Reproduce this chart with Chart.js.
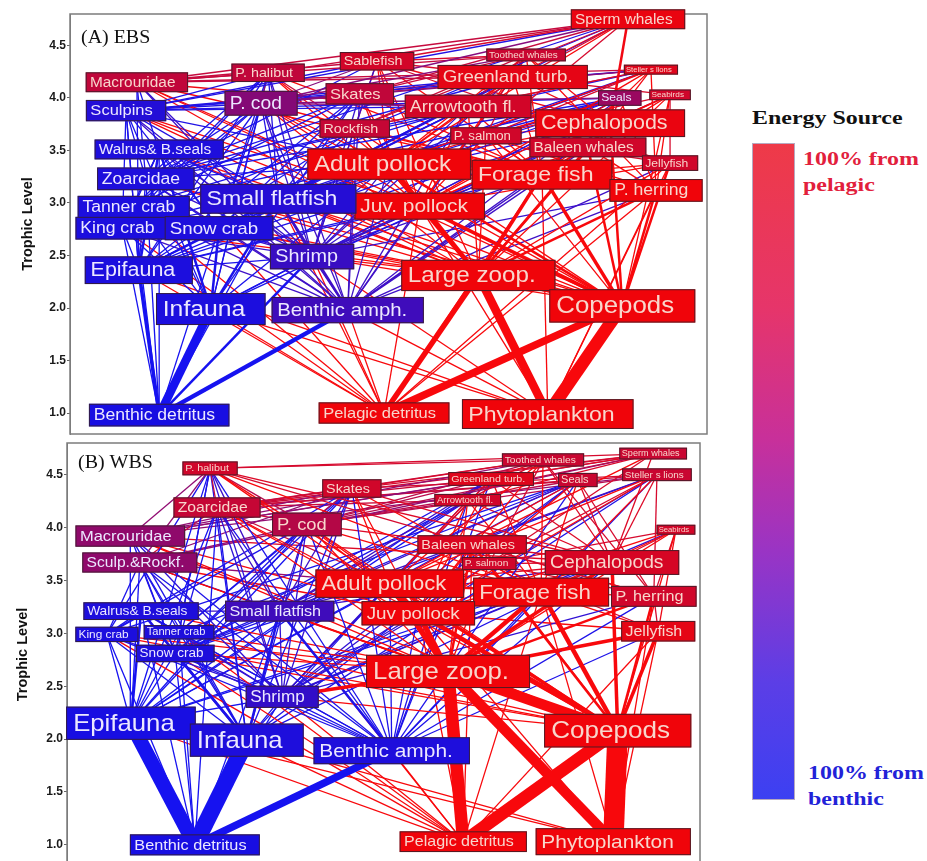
<!DOCTYPE html>
<html>
<head>
<meta charset="utf-8">
<script src="https://cdn.jsdelivr.net/npm/chart.js@4.4.1/dist/chart.umd.min.js"></script>
<style>
  body { margin: 0; background: #fff; width: 927px; height: 861px; overflow: hidden; position: relative; }
  #chartA { position: absolute; left: 0; top: 0; }
  #chartB { position: absolute; left: 0; top: 440px; }
  .cbar { position: absolute; left: 752px; top: 143px; width: 43px; height: 657px; box-sizing: border-box;
          border: 1px solid #b7a9c0;
          background: linear-gradient(to bottom, #ee3a48 0%, #e6356a 25%, #c8309a 45%, #9a34c4 62%, #5c3ee6 82%, #3c40f2 100%); }
  .lbl { position: absolute; font-family: "Liberation Serif", "Times New Roman", serif; font-weight: bold;
         font-size: 18px; line-height: 26px; white-space: nowrap; transform-origin: left top; transform: scaleX(1.33); }
</style>
</head>
<body>
<canvas id="chartA" width="708" height="435"></canvas>
<canvas id="chartB" width="701" height="427"></canvas>
<div class="lbl" style="left:752px;top:105px;color:#111">Energy Source</div>
<div class="cbar"></div>
<div class="lbl" style="left:803px;top:146px;color:#e2203c">100% from<br>pelagic</div>
<div class="lbl" style="left:808px;top:760px;color:#2222d8">100% from<br>benthic</div>
<script>
const trophicTicks = [1.0, 1.5, 2.0, 2.5, 3.0, 3.5, 4.0, 4.5];

// ---- (A) EBS ----
const ebsIds = ['sperm','tooth','sable','gturb','sealion','bird','seal','arrow','skate','halibut','macro','cod',
  'sculpin','rock','salmon','ceph','baleen','jelly','apol','forage','herring','jpol','walrus','zoar','sflat',
  'tanner','king','snow','shrimp','epi','infa','bamph','lzoop','cope','bdet','pdet','phyto'];
const ebsLabels = ['Sperm whales','Toothed whales','Sablefish','Greenland turb.','Steller s lions','Seabirds','Seals',
  'Arrowtooth fl.','Skates','P. halibut','Macrouridae','P. cod','Sculpins','Rockfish','P. salmon','Cephalopods',
  'Baleen whales','Jellyfish','Adult pollock','Forage fish','P. herring','Juv. pollock','Walrus& B.seals','Zoarcidae',
  'Small flatfish','Tanner crab','King crab','Snow crab','Shrimp','Epifauna','Infauna','Benthic amph.','Large zoop.',
  'Copepods','Benthic detritus','Pelagic detritus','Phytoplankton'];
const ebsX = [87.6, 71.6, 48.2, 69.5, 91.2, 94.2, 86.3, 62.5, 45.5, 31.1, 10.5, 30.0,
  8.8, 44.7, 65.3, 84.8, 81.3, 94.2, 50.1, 74.1, 92.0, 54.9, 14.0, 11.9, 32.7,
  10.0, 8.2, 23.4, 38.0, 10.8, 22.1, 43.6, 64.1, 86.7, 14.0, 49.3, 75.0];
const ebsTL = [4.75, 4.41, 4.35, 4.20, 4.27, 4.03, 4.00, 3.92, 4.04, 4.24, 4.15, 3.95,
  3.88, 3.71, 3.64, 3.76, 3.53, 3.38, 3.37, 3.27, 3.12, 2.97, 3.51, 3.23, 3.04,
  2.96, 2.76, 2.76, 2.49, 2.36, 1.99, 1.98, 2.31, 2.02, 0.98, 1.00, 0.99];
const ebsPelagic = [0.97, 0.82, 0.86, 0.95, 0.92, 0.85, 0.6, 0.86, 0.78, 0.78, 0.78, 0.5,
  0.05, 0.8, 0.85, 0.97, 0.85, 0.85, 1, 1, 1, 1, 0.03, 0.03, 0.06,
  0.02, 0.02, 0.03, 0.15, 0.02, 0.02, 0.18, 1, 1, 0, 1, 1];
const ebsDiets = {
  sperm:   'ceph:2 macro sable skate gturb arrow cod apol rock halibut salmon sculpin zoar sflat king',
  tooth:   'ceph salmon forage apol herring cod sable macro gturb arrow jpol rock skate',
  sealion: 'apol forage herring ceph cod salmon jpol sculpin arrow sflat zoar snow rock skate macro',
  bird:    'forage jpol lzoop cope ceph herring jelly shrimp salmon sable',
  seal:    'apol jpol forage cod sculpin shrimp ceph herring zoar sflat snow salmon epi infa tanner king bamph',
  gturb:   'apol jpol forage ceph cod sflat shrimp arrow macro zoar sculpin snow bamph epi',
  arrow:   'apol jpol forage shrimp sflat cod lzoop ceph zoar sculpin snow bamph tanner epi rock',
  sable:   'ceph forage apol jpol macro shrimp lzoop jelly zoar sculpin cod rock',
  skate:   'apol jpol forage snow shrimp sflat sculpin bamph cod zoar tanner epi infa',
  halibut: 'apol cod sflat snow tanner king sculpin forage shrimp jpol zoar rock macro epi infa bamph',
  macro:   'shrimp bamph lzoop epi infa forage ceph cope jpol zoar',
  cod:     'apol jpol forage shrimp snow tanner sflat bamph epi infa lzoop zoar sculpin king cope',
  sculpin: 'shrimp snow tanner king epi infa bamph sflat zoar jpol cope lzoop',
  rock:    'lzoop cope forage jpol shrimp bamph sflat epi',
  salmon:  'lzoop cope forage jpol ceph shrimp herring',
  ceph:    'lzoop:2 cope:2 forage jpol shrimp bamph sflat epi infa',
  baleen:  'cope:2 lzoop:2 forage jpol herring shrimp bamph',
  jelly:   'cope:2 lzoop forage jpol pdet phyto bamph salmon',
  apol:    'lzoop:4 cope:2 jpol:2 forage shrimp bamph sflat infa epi ceph zoar snow sculpin',
  forage:  'cope:3 lzoop:3 phyto pdet bamph shrimp epi',
  herring: 'cope:2 lzoop:2 forage phyto bamph shrimp pdet',
  jpol:    'cope:3 lzoop:3 phyto bamph shrimp epi pdet',
  walrus:  'infa:2 epi:2 snow shrimp bamph tanner king sflat zoar bdet cope lzoop',
  zoar:    'infa epi bamph shrimp snow bdet lzoop cope',
  sflat:   'infa:2 epi bamph:2 shrimp snow lzoop cope bdet pdet',
  tanner:  'infa epi bamph bdet shrimp lzoop pdet',
  king:    'infa epi bamph bdet shrimp lzoop pdet sflat',
  snow:    'infa:2 epi bamph bdet shrimp pdet lzoop cope',
  shrimp:  'bdet:2 pdet infa epi bamph lzoop cope phyto',
  epi:     'bdet:3 pdet phyto',
  infa:    'bdet:8 pdet phyto',
  bamph:   'bdet:4 pdet phyto',
  lzoop:   'phyto:8 pdet:5 cope:4',
  cope:    'phyto:12 pdet:7'
};

// ---- (B) WBS ----
const wbsIds = ['halibut','zoar','skate','cod','macro','sculrock','walrus','sflat','king','tanner','snow','shrimp',
  'epi','infa','bamph','bdet','lzoop','cope','pdet','phyto','tooth','sperm','gturb','seal','sealion','arrow','bird',
  'baleen','salmon','ceph','apol','forage','herring','jpol','jelly'];
const wbsLabels = ['P. halibut','Zoarcidae','Skates','P. cod','Macrouridae','Sculp.&Rockf.','Walrus& B.seals',
  'Small flatfish','King crab','Tanner crab','Snow crab','Shrimp','Epifauna','Infauna','Benthic amph.',
  'Benthic detritus','Large zoop.','Copepods','Pelagic detritus','Phytoplankton','Toothed whales','Sperm whales',
  'Greenland turb.','Seals','Steller s lions','Arrowtooth fl.','Seabirds','Baleen whales','P. salmon','Cephalopods',
  'Adult pollock','Forage fish','P. herring','Juv pollock','Jellyfish'];
const wbsX = [22.6, 23.7, 45.0, 37.9, 10.0, 11.5, 11.7, 33.6, 6.3, 17.7, 17.1, 34.0,
  10.1, 28.4, 51.3, 20.2, 60.2, 87.0, 62.6, 86.3, 75.2, 92.6, 67.0, 80.7, 93.2, 63.3, 96.2,
  64.0, 66.7, 86.1, 51.0, 74.9, 92.7, 55.5, 93.4];
const wbsTL = [4.56, 4.19, 4.37, 4.03, 3.92, 3.67, 3.21, 3.21, 2.99, 3.01, 2.81, 2.40,
  2.15, 1.99, 1.89, 1.00, 2.64, 2.08, 1.03, 1.03, 4.64, 4.70, 4.46, 4.45, 4.50, 4.26, 3.98,
  3.84, 3.66, 3.67, 3.47, 3.39, 3.35, 3.19, 3.02];
const wbsPelagic = [0.85, 0.8, 0.85, 0.72, 0.55, 0.55, 0.03, 0.18, 0.02, 0.03, 0.03, 0.12,
  0, 0.03, 0.03, 0, 1, 1, 1, 1, 0.82, 0.82, 0.92, 0.82, 0.82, 0.86, 0.86,
  0.9, 0.85, 0.88, 1, 1, 0.85, 1, 0.95];
const wbsDiets = {
  halibut:  'apol cod forage jpol sflat snow shrimp zoar sculrock ceph herring tanner king bamph epi infa macro',
  zoar:     'infa epi bamph shrimp snow lzoop cope bdet sflat jpol',
  skate:    'apol jpol forage shrimp sflat snow epi infa bamph cod zoar ceph tanner king macro sculrock',
  cod:      'apol jpol forage shrimp snow tanner king sflat bamph epi infa lzoop cope ceph zoar sculrock',
  macro:    'shrimp bamph lzoop epi infa ceph cope jpol snow',
  sculrock: 'shrimp bamph epi infa lzoop cope snow tanner king jpol sflat zoar',
  walrus:   'infa:2 epi:2 bamph shrimp snow tanner king bdet sflat lzoop',
  sflat:    'infa:2 epi bamph:2 shrimp lzoop cope snow bdet pdet',
  king:     'infa epi bamph bdet shrimp lzoop cope pdet',
  tanner:   'infa epi bamph bdet shrimp lzoop cope pdet',
  snow:     'infa:2 epi bamph bdet shrimp lzoop cope pdet',
  shrimp:   'bdet pdet infa epi bamph lzoop:3 cope',
  epi:      'bdet:14 pdet phyto',
  infa:     'bdet:16 pdet phyto',
  bamph:    'bdet:7 pdet',
  lzoop:    'phyto:10 pdet:12 cope:10',
  cope:     'phyto:20 pdet:12',
  tooth:    'ceph salmon forage apol herring cod halibut gturb skate arrow jpol zoar macro',
  sperm:    'ceph skate gturb cod halibut macro arrow zoar sculrock apol salmon',
  gturb:    'apol jpol forage ceph cod sflat shrimp zoar snow bamph epi macro',
  seal:     'apol jpol forage cod shrimp ceph herring sflat snow epi infa tanner king bamph zoar',
  sealion:  'apol forage herring ceph cod salmon jpol sflat bamph infa snow shrimp zoar skate macro',
  arrow:    'apol jpol forage shrimp sflat cod lzoop ceph snow bamph epi zoar',
  bird:     'forage jpol lzoop cope ceph herring jelly shrimp salmon',
  baleen:   'cope:2 lzoop:2 forage jpol herring shrimp bamph pdet',
  salmon:   'lzoop cope forage jpol ceph herring shrimp',
  ceph:     'lzoop:3 cope:3 forage jpol shrimp bamph sflat epi infa',
  apol:     'lzoop:5 cope:3 jpol:3 forage:2 shrimp bamph sflat infa epi ceph zoar snow sculrock',
  forage:   'cope:4 lzoop:4 phyto pdet shrimp bamph epi',
  herring:  'cope:2 lzoop:2 forage phyto bamph shrimp',
  jpol:     'cope:4 lzoop:5 phyto bamph shrimp pdet',
  jelly:    'cope:3 lzoop:3 forage jpol pdet phyto bamph salmon herring'
};

// label font sizes (styling)
const ebsFont = { sperm:14, tooth:9, sable:13, gturb:17, sealion:7, bird:7.5, seal:11, arrow:16.5, skate:15,
  halibut:13, macro:14, cod:17.5, sculpin:15, rock:13, salmon:12, ceph:19.5, baleen:14, jelly:11, apol:22,
  forage:21, herring:16, jpol:19, walrus:14, zoar:16, sflat:21, tanner:16, king:16, snow:17, shrimp:18,
  epi:19.5, infa:22.5, bamph:18.5, lzoop:22, cope:23.5, bdet:16, pdet:15, phyto:21 };
const wbsFont = { halibut:9.8, zoar:14.3, skate:13, cod:16.7, macro:15, sculrock:14.2, walrus:12.5, sflat:14.7,
  king:10.8, tanner:10.1, snow:12.3, shrimp:15.6, epi:23.4, infa:23.4, bamph:19, bdet:14.8, lzoop:23.4,
  cope:23.7, pdet:14.6, phyto:19, tooth:9.3, sperm:8.3, gturb:9.7, seal:10, sealion:9, arrow:8.7, bird:7,
  baleen:13.1, salmon:9.2, ceph:17.5, apol:20, forage:20.3, herring:14.7, jpol:17.1, jelly:14.5 };

const STRETCH = 1.1;
const BOX_B = [24, 14, 226], BOX_P = [240, 4, 10];
const EDGE_B = [22, 18, 240], EDGE_P = [248, 8, 12];

function mix(p, a, b) {
  return 'rgb(' + a.map((v, i) => Math.round(v + (b[i] - v) * p)).join(',') + ')';
}

function parseDiets(diets) {
  const links = [];
  for (const pred in diets) {
    diets[pred].split(/\s+/).forEach(tok => {
      const [prey, w] = tok.split(':');
      links.push({ prey, pred, flow: w ? +w : 1 });
    });
  }
  return links;
}

function drawWeb(canvasId, title, ids, labels, xs, tls, pelagic, diets, fonts, axisW, padTop, titlePad, titleY) {
  const idx = {};
  ids.forEach((id, i) => idx[id] = i);
  const links = parseDiets(diets).sort((a, b) => b.flow - a.flow);

  const nodeSet = {
    label: 'nodes',
    data: ids.map((id, i) => ({ x: xs[i], y: tls[i] })),
    pointRadius: 0, showLine: false
  };
  const edgeSets = links.map(l => ({
    label: l.prey + '>' + l.pred,
    data: [{ x: xs[idx[l.prey]], y: tls[idx[l.prey]] }, { x: xs[idx[l.pred]], y: tls[idx[l.pred]] }],
    showLine: true, pointRadius: 0,
    borderColor: mix(pelagic[idx[l.prey]], EDGE_B, EDGE_P),
    borderWidth: l.flow <= 1 ? 1.3 : l.flow + 0.5,
    clip: false
  }));

  const boxes = {
    id: 'boxes',
    beforeDatasetsDraw(chart) {
      const { ctx, chartArea: a } = chart;
      ctx.save();
      ctx.strokeStyle = '#7c7c7c';
      ctx.lineWidth = 1.5;
      ctx.strokeRect(a.left, a.top, a.right - a.left, a.bottom - a.top);
      ctx.restore();
    },
    afterDatasetsDraw(chart) {
      const { ctx, chartArea: a } = chart;
      const meta = chart.getDatasetMeta(0);
      ctx.save();
      ctx.font = '19px "Liberation Serif", "Times New Roman", serif';
      ctx.fillStyle = '#111';
      ctx.textBaseline = 'alphabetic';
      ctx.translate(a.left + 11, a.top + titleY);
      ctx.scale(1.05, 1);
      ctx.fillText(title, 0, 0);
      ctx.restore();

      meta.data.forEach((pt, i) => {
        const fs = fonts[ids[i]];
        ctx.save();
        ctx.font = fs + 'px "Liberation Sans", Arial, sans-serif';
        const tw = ctx.measureText(labels[i]).width * STRETCH;
        const w = tw + 1.2 * fs, h = 1.42 * fs;
        const left = pt.x - w / 2, top = pt.y - h / 2;
        ctx.fillStyle = mix(pelagic[i], BOX_B, BOX_P);
        ctx.fillRect(left, top, w, h);
        ctx.strokeStyle = 'rgba(55,30,40,0.85)';
        ctx.lineWidth = 1;
        ctx.strokeRect(left + 0.5, top + 0.5, w - 1, h - 1);
        ctx.translate(left + 0.3 * fs, pt.y + 0.04 * fs);
        ctx.scale(STRETCH, 1);
        ctx.fillStyle = pelagic[i] > 0.6 ? 'rgb(248,214,204)' : 'rgb(236,232,255)';
        ctx.textBaseline = 'middle';
        ctx.fillText(labels[i], 0, 0);
        ctx.restore();
      });
    }
  };

  return new Chart(document.getElementById(canvasId), {
    type: 'scatter',
    data: { datasets: [nodeSet].concat(edgeSets) },
    plugins: [boxes],
    options: {
      responsive: false,
      animation: false,
      events: [],
      layout: { padding: { top: padTop, right: 1, bottom: 1, left: 0 } },
      plugins: { legend: { display: false }, tooltip: { enabled: false } },
      scales: {
        x: { type: 'linear', min: 0, max: 100, display: false },
        y: {
          type: 'linear', min: 0.8, max: 4.8,
          afterBuildTicks: s => { s.ticks = trophicTicks.map(v => ({ value: v })); },
          afterFit: s => { s.width = axisW; s.paddingTop = 0; s.paddingBottom = 0; },
          ticks: {
            callback: v => v.toFixed(1),
            font: { family: '"Liberation Sans", Arial, sans-serif', weight: 'bold', size: 12 },
            color: '#1a1a1a', padding: 1
          },
          grid: { drawOnChartArea: false, tickLength: 3, color: '#666' },
          border: { color: '#7c7c7c' },
          title: {
            display: true, text: 'Trophic Level', color: '#111',
            font: { family: '"Liberation Sans", Arial, sans-serif', weight: 'bold', size: 14.5 },
            padding: { top: titlePad, bottom: 0 }
          }
        }
      }
    }
  });
}

drawWeb('chartA', '(A) EBS', ebsIds, ebsLabels, ebsX, ebsTL, ebsPelagic, ebsDiets, ebsFont, 70, 14, 19, 29);
drawWeb('chartB', '(B) WBS', wbsIds, wbsLabels, wbsX, wbsTL, wbsPelagic, wbsDiets, wbsFont, 67, 3, 14, 25);
</script>
</body>
</html>
